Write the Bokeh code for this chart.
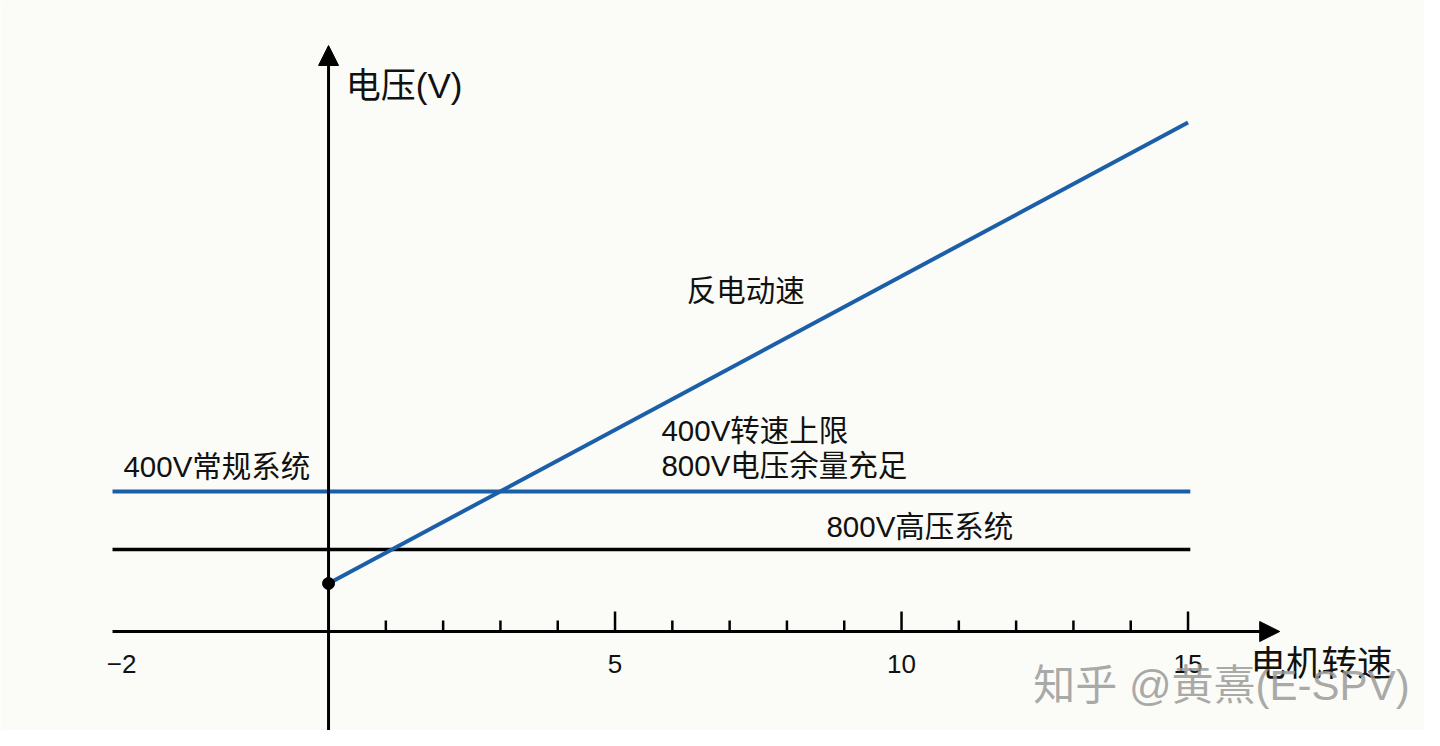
from bokeh.plotting import figure
from bokeh.models import Arrow, NormalHead, Range1d
from bokeh.core.properties import value
from bokeh.embed import file_html
from bokeh.resources import INLINE

# ---- data (x: motor speed, arbitrary units; y: voltage, arbitrary units) ----
emf_x = [0, 15]
emf_y = [4.8, 50.9]
sys400_x = [-3.77, 15.04]
sys400_y = [14.0, 14.0]
sys800_x = [-3.77, 15.04]
sys800_y = [8.2, 8.2]
minor_ticks = [1, 2, 3, 4, 6, 7, 8, 9, 11, 12, 13, 14]
major_ticks = [5, 10, 15]
tick_label_x = [-3.61, 5, 10, 15]
tick_label_text = ["\u22122", "5", "10", "15"]
xaxis_span = [-3.77, 16.6]
yaxis_span = [-12.0, 58.6]

labels_x = [0.30, 6.25, 5.81, 5.81, -3.58, 8.69]
labels_y = [54.6, 34.1, 20.1, 16.6, 16.5, 10.5]
labels_text = ["电压(V)", "反电动速", "400V转速上限", "800V电压余量充足", "400V常规系统", "800V高压系统"]
labels_size = ["35px", "29.5px", "29.5px", "29.5px", "29.5px", "29.5px"]

BLUE = "#1b5fa9"
FONT = "Liberation Sans, Noto Sans CJK SC"

p = figure(width=1424, height=730, output_backend="svg", toolbar_location=None,
           x_range=Range1d(-5.725, 19.127), y_range=Range1d(-9.9, 63.1),
           min_border=0, background_fill_color="#fbfbf7", border_fill_color="#fbfbf7")
p.axis.visible = False
p.grid.visible = False
p.outline_line_color = None

# horizontal system lines
p.line(sys800_x, sys800_y, line_color="black", line_width=3.5)
p.line(sys400_x, sys400_y, line_color=BLUE, line_width=4)

# axes with arrows
p.add_layout(Arrow(end=NormalHead(size=20, fill_color="black", line_color="black"),
                   x_start=xaxis_span[0], y_start=0, x_end=xaxis_span[1], y_end=0,
                   line_color="black", line_width=3))
p.add_layout(Arrow(end=NormalHead(size=20, fill_color="black", line_color="black"),
                   x_start=0, y_start=yaxis_span[0], x_end=0, y_end=yaxis_span[1],
                   line_color="black", line_width=3))

# ticks
p.segment(x0=minor_ticks, y0=[0] * len(minor_ticks), x1=minor_ticks, y1=[1.1] * len(minor_ticks),
          line_color="black", line_width=2.5)
p.segment(x0=major_ticks, y0=[0] * len(major_ticks), x1=major_ticks, y1=[2.0] * len(major_ticks),
          line_color="black", line_width=2.5)
p.text(x=tick_label_x, y=[-3.2] * len(tick_label_x), text=tick_label_text,
       text_font=value(FONT), text_font_size="26px", text_align="center",
       text_baseline="middle", text_color="#111111")

# back-EMF line
p.line(emf_x, emf_y, line_color=BLUE, line_width=4)
p.scatter([emf_x[0]], [emf_y[0]], size=12, color="black")

# labels
p.text(x=labels_x, y=labels_y, text=labels_text, text_font=value(FONT),
       text_font_size=labels_size, text_align="left", text_baseline="middle",
       text_color="#111111")

# x axis title
p.text(x=[16.09], y=[-3.2], text=["电机转速"], text_font=value(FONT), text_font_size="35.5px",
       text_align="left", text_baseline="middle", text_color="#111111")

# watermark
p.text(x=[12.30], y=[-5.4], text=["知乎 @黄熹(E-SPV)"], text_font=value(FONT),
       text_font_size="42px", text_align="left", text_baseline="middle",
       text_color="#9a9a9a", text_alpha=0.85)

open("out.html", "w").write(file_html(p, INLINE))
